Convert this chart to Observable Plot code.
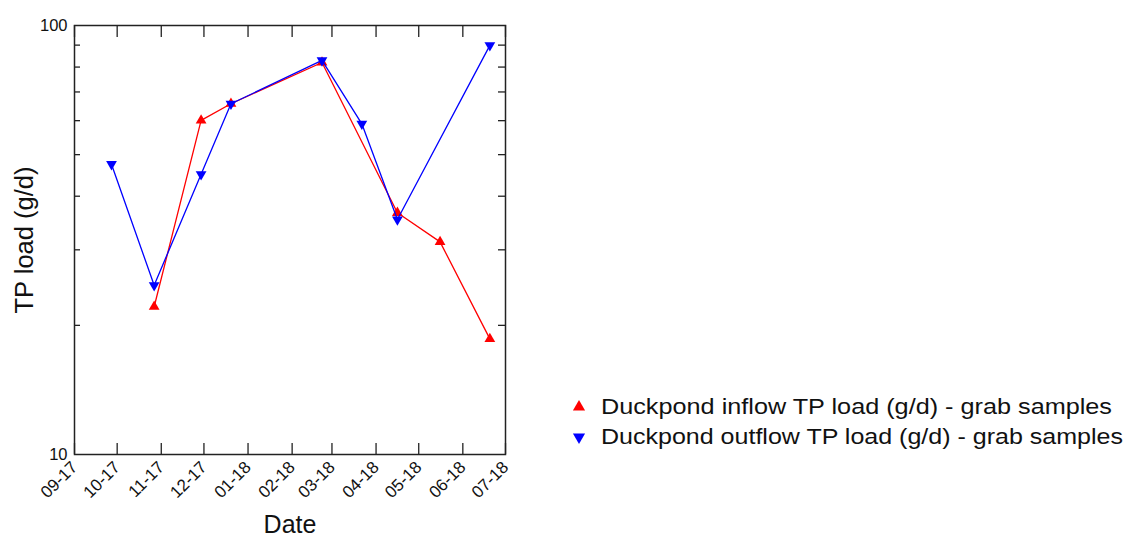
<!DOCTYPE html>
<html><head><meta charset="utf-8">
<script src="https://cdn.jsdelivr.net/npm/d3@7"></script>
<script src="https://cdn.jsdelivr.net/npm/@observablehq/plot@0.6"></script>
<style>
body{margin:0;background:#fff;}
#wrap{position:relative;width:1131px;height:538px;background:#fff;}
#legend{position:absolute;left:0;top:0;pointer-events:none;}
</style></head><body><div id="wrap"></div>
<script>
// ---- data ----
const inflowDates = ["2017-10-27","2017-11-29","2017-12-20","2018-02-22","2018-04-16","2018-05-16","2018-06-20"];
const inflowLoad  = [22.1, 60.1, 65.7, 82.0, 36.6, 31.3, 18.6];
const outflowDates = ["2017-09-27","2017-10-27","2017-11-29","2017-12-20","2018-02-22","2018-03-22","2018-04-16","2018-06-20"];
const outflowLoad  = [47.5, 24.8, 45.0, 65.7, 82.9, 59.0, 35.3, 89.9];
const monthTicks = ["2017-09-01","2017-10-01","2017-11-01","2017-12-01","2018-01-01","2018-02-01","2018-03-01","2018-04-01","2018-05-01","2018-06-01","2018-07-01"];
const yLabelTicks = [10, 100];
const yMinorTicks = [20, 30, 40, 50, 60, 70, 80, 90];
const seriesNames = ["Duckpond inflow TP load (g/d) - grab samples", "Duckpond outflow TP load (g/d) - grab samples"];
const seriesColors = ["#ff0000", "#0000ff"];

const inflow = inflowDates.map((d, i) => ({date: new Date(d), load: inflowLoad[i]}));
const outflow = outflowDates.map((d, i) => ({date: new Date(d), load: outflowLoad[i]}));
const months = monthTicks.map(d => new Date(d));

const W = 1131, H = 538, mL = 74, mR = 626, mT = 25, mB = 84;
const innerW = W - mL - mR, innerH = H - mT - mB;
const font = "'Liberation Sans', Arial, sans-serif";

const chart = Plot.plot({
  width: W, height: H,
  marginLeft: mL, marginRight: mR, marginTop: mT, marginBottom: mB,
  style: {fontFamily: font, background: "#fff", color: "#111", overflow: "visible"},
  x: {type: "utc", domain: [months[0], months[months.length - 1]]},
  y: {type: "log", domain: [10, 100]},
  marks: [
    Plot.axisX({ticks: months, tickFormat: d3.utcFormat("%m-%y"), tickRotate: -45, tickSize: 0, tickPadding: 10, fontSize: 17, label: null}),
    Plot.axisY({ticks: yLabelTicks, tickFormat: d => String(d), tickSize: 0, tickPadding: 7, fontSize: 16.5, label: null}),
    Plot.text(["Date"], {text: d => d, frameAnchor: "bottom", textAnchor: "middle", lineAnchor: "bottom", dy: 78, fontSize: 25, fill: "#111"}),
    Plot.text(["TP load (g/d)"], {text: d => d, frameAnchor: "left", textAnchor: "middle", lineAnchor: "middle", dx: -50, rotate: -90, fontSize: 25.5, fill: "#111"}),
    // inward tick marks on all four sides
    Plot.tickX(months, {x: d => d, insetTop: innerH - 11, stroke: "#222", strokeWidth: 1.3}),
    Plot.tickX(months, {x: d => d, insetBottom: innerH - 12, stroke: "#222", strokeWidth: 1.3}),
    Plot.tickY(yMinorTicks, {y: d => d, insetRight: innerW - 6, stroke: "#222", strokeWidth: 1.3}),
    Plot.tickY(yMinorTicks, {y: d => d, insetLeft: innerW - 7, stroke: "#222", strokeWidth: 1.3}),
    Plot.line(inflow, {x: "date", y: "load", stroke: seriesColors[0], strokeWidth: 1.3}),
    Plot.dot(inflow, {x: "date", y: "load", symbol: "triangle", r: 4, fill: seriesColors[0], stroke: "none"}),
    Plot.line(outflow, {x: "date", y: "load", stroke: seriesColors[1], strokeWidth: 1.3}),
    Plot.dot(outflow, {x: "date", y: "load", symbol: "triangle", r: 4, rotate: 180, fill: seriesColors[1], stroke: "none"}),
    Plot.frame({stroke: "#222", strokeWidth: 1.5})
  ]
});
const wrap = document.getElementById("wrap");
wrap.appendChild(chart);

// legend
const lg = d3.select(wrap).append("svg").attr("id", "legend").attr("width", W).attr("height", H);
const rowsY = [407, 437];
const textLen = [511, 522];
seriesNames.forEach((name, i) => {
  lg.append("path")
    .attr("d", d3.symbol(d3.symbolTriangle, 64)())
    .attr("transform", `translate(579,${rowsY[i]}) rotate(${i === 0 ? 0 : 180})`)
    .attr("fill", seriesColors[i]);
  lg.append("text")
    .attr("x", 601).attr("y", rowsY[i] + 7)
    .attr("font-family", font).attr("font-size", 22.5).attr("fill", "#111")
    .attr("textLength", textLen[i]).attr("lengthAdjust", "spacingAndGlyphs")
    .text(name);
});
</script>
</body></html>
